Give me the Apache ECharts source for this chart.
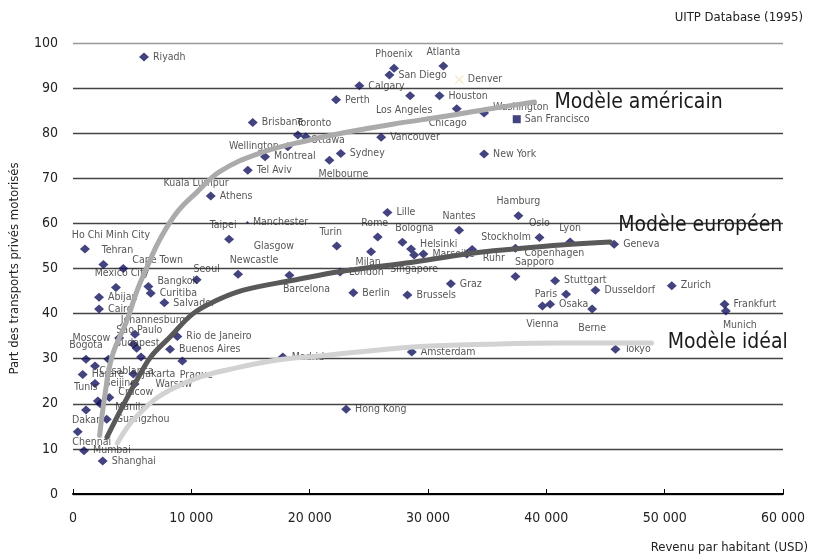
<!DOCTYPE html>
<html>
<head>
<meta charset="utf-8">
<script src="https://cdn.jsdelivr.net/npm/echarts@6/dist/echarts.min.js"></script>
<style>
  html, body { margin: 0; padding: 0; background: #fff; }
  #chart { width: 817px; height: 557px; }
</style>
</head>
<body>
<div id="chart"></div>
<script>
// villes : revenu par habitant (USD) et part des transports privés motorisés (%)
const cities = ['Riyadh', 'Phoenix', 'Atlanta', 'San Diego', 'Denver', 'Calgary', 'Perth', 'Los Angeles', 'Houston', 'Chicago',
  'Washington', 'San Francisco', 'Brisbane', 'Toronto', 'Ottawa', 'Wellington', 'Vancouver', 'Montreal', 'Sydney', 'Melbourne',
  'New York', 'Tel Aviv', 'Kuala Lumpur', 'Athens', 'Hamburg', 'Lille', 'Manchester', 'Nantes', 'Rome', 'Oslo',
  'Taipei', 'Lyon', 'Bologna', 'Geneva', 'Turin', 'Glasgow', 'Ho Chi Minh City', 'Copenhagen', 'Helsinki', 'Stockholm',
  'Milan', 'Ruhr', 'Marseille', 'Singapore', 'Tehran', 'Cape Town', 'London', 'Newcastle', 'Barcelona', 'Sapporo',
  'Seoul', 'Stuttgart', 'Graz', 'Zurich', 'Bangkok', 'Mexico City', 'Dusseldorf', 'Berlin', 'Curitiba', 'Paris',
  'Brussels', 'Abijan', 'Salvador', 'Frankfurt', 'Osaka', 'Vienna', 'Cairo', 'Berne', 'Munich', 'Johannesburg',
  'Rio de Janeiro', 'Moscow', 'Sao Paulo', '', 'Budapest', 'Tokyo', 'Buenos Aires', 'Amsterdam', 'Madrid', 'Bogota',
  'Casablanca', 'Prague', ' ', 'Jakarta', 'Harare', 'Warsaw', 'Beijing', 'Cracow', 'Tunis', 'Manila',
  'Dakar', 'Guangzhou', 'Chennai', 'Mumbai', 'Shanghai', 'Hong Kong'];
const income = [6000, 27130, 31300, 26740, 32650, 24200, 22230, 28490, 30970, 32430,
  34740, 37500, 15190, 19000, 19670, 18150, 26040, 16230, 22630, 21670,
  34740, 14770, 10400, 11640, 37640, 26570, 14740, 32630, 25750, 39420,
  13190, 42010, 27840, 45730, 22290, 16970, 1010, 37390, 28570, 33730,
  25190, 33280, 29610, 28830, 2570, 4250, 22570, 13950, 18290, 37390,
  10450, 40740, 31930, 50600, 6370, 3630, 44150, 23690, 6570, 41670,
  28260, 2200, 7720, 55060, 40320, 39670, 2200, 43870, 55170, 5240,
  8820, 3900, 5100, 5380, 5750, 45840, 8200, 28630, 17730, 1100,
  2990, 9240, 1860, 5100, 820, 5200, 1860, 3070, 2100, 2300,
  1100, 2850, 400, 930, 2510, 23080];
const share = [96.9, 94.4, 94.9, 92.9, 91.9, 90.5, 87.4, 88.3, 88.3, 85.4,
  84.5, 83.1, 82.4, 79.6, 79.2, 77.0, 79.1, 74.8, 75.5, 74.0,
  75.4, 71.8, 66.8, 66.1, 61.7, 62.4, 60.2, 58.5, 57.0, 56.9,
  56.5, 55.9, 55.8, 55.4, 55.0, 55.0, 54.3, 54.5, 54.3, 54.2,
  53.7, 53.2, 53.2, 53.0, 50.9, 50.0, 49.2, 48.7, 48.5, 48.2,
  47.5, 47.3, 46.6, 46.2, 46.0, 45.8, 45.2, 44.6, 44.5, 44.3,
  44.1, 43.6, 42.4, 42.1, 42.1, 41.7, 41.0, 41.0, 40.6, 35.4,
  34.9, 34.6, 33.2, 32.3, 30.4, 32.1, 32.1, 31.5, 30.4, 29.9,
  29.9, 29.5, 28.4, 26.6, 26.5, 24.4, 24.5, 21.4, 20.6, 20.0,
  18.6, 16.6, 13.8, 9.6, 7.3, 18.8];

// courbes des modèles
const amerX = [2250, 2700, 3300, 4560, 5400, 6250, 7350, 8800, 10500, 12400, 15800, 20000, 23100, 27000, 31600, 35000, 39000];
const amerY = [13, 22, 30.5, 38.5, 45, 50.3, 56.5, 62.5, 67, 71.5, 75.6, 78.5, 80.2, 82, 83.8, 85.3, 86.9];
const euroX = [2870, 4200, 5660, 6600, 8200, 10150, 12200, 14400, 18600, 23000, 28700, 34400, 41200, 45400];
const euroY = [12.6, 19.5, 26.5, 30.5, 34.8, 40, 43, 45.2, 47.4, 49.5, 51.4, 53.6, 55.2, 55.9];
const idealX = [3750, 4800, 5900, 7200, 8780, 10800, 13000, 17250, 20900, 28700, 35000, 41200, 48900];
const idealY = [11.3, 15.5, 18.6, 21.5, 23.8, 26, 27.5, 29.7, 30.6, 32.6, 33.2, 33.5, 33.5];

// placement des étiquettes [position, dx, dy]
const labelPlace = {
  'Phoenix': ['top', 0, 0], 'Atlanta': ['top', 0, 0], 'Los Angeles': ['bottom', -6, 0], 'Chicago': ['bottom', -9, 0],
  'Washington': ['right', 0, -6], 'Toronto': ['top', 16, 2], 'Ottawa': ['right', -4, 3], 'Wellington': ['left', 0, 0],
  'Melbourne': ['bottom', 14, 0], 'Kuala Lumpur': ['top', 0, 0], 'Hamburg': ['top', 0, 0], 'Nantes': ['top', 0, 0],
  'Rome': ['top', -3, 0], 'Oslo': ['top', 0, 0], 'Taipei': ['top', -6, 0], 'Lyon': ['top', 0, 0], 'Bologna': ['top', 12, 0],
  'Turin': ['top', -6, 0], 'Glasgow': ['inside', 0, 0], 'Ho Chi Minh City': ['top', 26, 0], 'Copenhagen': ['right', 0, 5],
  'Helsinki': ['right', 0, -5], 'Stockholm': ['right', 0, -12], 'Milan': ['bottom', -3, -4], 'Ruhr': ['right', 7, 4],
  'Singapore': ['bottom', 0, 0], 'Tehran': ['top', 14, 0], 'Cape Town': ['right', 0, -8], 'Newcastle': ['top', 16, 0],
  'Barcelona': ['bottom', 17, 0], 'Sapporo': ['top', 19, 0], 'Seoul': ['top', 10, 3], 'Bangkok': ['right', 0, -5],
  'Mexico City': ['top', 6, 0], 'Paris': ['left', 0, 0], 'Vienna': ['bottom', 0, 4], 'Berne': ['bottom', 0, 5],
  'Munich': ['bottom', 14, 0], 'Johannesburg': ['top', 18, 0], 'Moscow': ['left', 0, 0], 'Sao Paulo': ['top', 6, 0],
  'Budapest': ['top', -4, 0], 'Bogota': ['top', 0, 0], 'Casablanca': ['bottom', 18, -2], 'Prague': ['bottom', 14, 0],
  'Warsaw': ['right', 12, 0], 'Cracow': ['right', 0, -5], 'Tunis': ['top', -12, 0], 'Manila': ['right', 6, 3],
  'Dakar': ['bottom', 0, -4], 'Chennai': ['bottom', 14, -3]
};

const navy = '#141460';
const font = '"DejaVu Sans Condensed", "Liberation Sans Narrow", sans-serif';

let cityData = cities.map(function (name, i) {
  let p = labelPlace[name] || ['right', 0, 0];
  let item = {
    name: name,
    value: [income[i], share[i]],
    label: { position: p[0], offset: [p[1], p[2]] }
  };
  if (name === 'Denver') {
    item.symbol = 'path://M0,1L1,0L5,4L9,0L10,1L6,5L10,9L9,10L5,6L1,10L0,9L4,5Z';
    item.symbolSize = 9;
    item.itemStyle = { color: '#eee4b4' };
  } else if (name === 'San Francisco') {
    item.symbol = 'rect';
    item.symbolSize = 8;
  } else if (name === 'Manchester') {
    item.symbolSize = 3;
  } else if (name === 'Glasgow' || name === 'Kuala Lumpur') {
    item.symbolSize = 0;
  }
  return item;
});

function pairs(xs, ys) {
  return xs.map(function (x, i) { return [x, ys[i]]; });
}

function modelLine(name, xs, ys, color, dist, offset) {
  return {
    name: name,
    type: 'line',
    data: pairs(xs, ys),
    smooth: 0.4,
    showSymbol: false,
    z: 5,
    lineStyle: { color: color, width: 5, cap: 'round' },
    endLabel: {
      show: true,
      formatter: name,
      distance: dist,
      offset: offset,
      fontFamily: font,
      fontSize: 21,
      color: '#1a1a1a'
    },
    silent: true
  };
}

let chart = echarts.init(document.getElementById('chart'));

let option = {
  animation: false,
  title: [
    {
      text: 'UITP Database (1995)',
      right: 9, top: 6,
      textStyle: { fontFamily: font, fontSize: 13, fontWeight: 'normal', color: '#222' }
    },
    {
      text: 'Revenu par habitant (USD)',
      right: 9, bottom: 3, padding: 0,
      textStyle: { fontFamily: font, fontSize: 13, fontWeight: 'normal', color: '#222' }
    }
  ],
  grid: { left: 73, right: 34, top: 43, bottom: 63 },
  xAxis: {
    type: 'value',
    min: 0, max: 60000, interval: 10000,
    axisLine: { show: true, lineStyle: { color: '#000', width: 2 } },
    axisTick: { show: true, inside: true, length: 5, lineStyle: { color: '#000' } },
    splitLine: { show: false },
    axisLabel: {
      margin: 17,
      fontFamily: font, fontSize: 14, color: '#222',
      formatter: function (v) { return v === 0 ? '0' : (v / 1000) + ' 000'; }
    }
  },
  yAxis: {
    type: 'value',
    min: 0, max: 100, interval: 10,
    name: 'Part des transports privés motorisés',
    nameLocation: 'middle',
    nameGap: 52,
    nameTextStyle: { fontFamily: font, fontSize: 13, color: '#222' },
    axisLine: { show: false },
    axisTick: { show: false },
    axisLabel: { margin: 15, fontFamily: font, fontSize: 14, color: '#222' },
    splitLine: {
      lineStyle: {
        color: ['#444', '#444', '#444', '#444', '#444', '#444', '#444', '#444', '#444', '#444', '#999'],
        width: 1.3
      }
    }
  },
  series: [
    {
      type: 'scatter',
      z: 2,
      symbol: 'diamond',
      symbolSize: [10, 9],
      itemStyle: { color: navy },
      label: {
        show: true,
        formatter: '{b}',
        distance: 4,
        fontFamily: font,
        fontSize: 10.5,
        color: '#2a2a2a'
      },
      data: cityData
    },
    modelLine('Modèle américain', amerX, amerY, '#ababab', 20, [0, 0]),
    modelLine('Modèle européen', euroX, euroY, '#595959', 8, [0, -16]),
    modelLine('Modèle idéal', idealX, idealY, '#d2d2d2', 16, [0, 0])
  ]
};

chart.setOption(option);
</script>
</body>
</html>
